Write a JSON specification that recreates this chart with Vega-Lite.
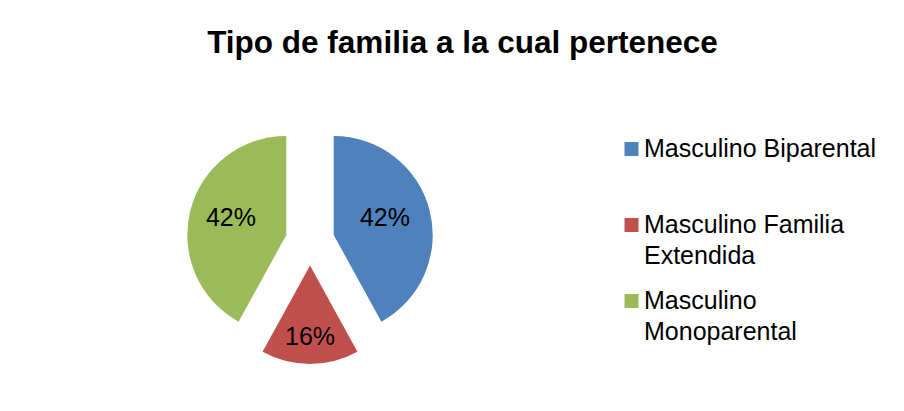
{
  "$schema": "https://vega.github.io/schema/vega-lite/v6.json",
  "width": 604,
  "height": 300,
  "autosize": "none",
  "padding": {"left": 8, "top": 91, "right": 292, "bottom": 20},
  "background": "white",
  "title": {
    "text": "Tipo de familia a la cual pertenece",
    "font": "Liberation Sans",
    "fontSize": 31.5,
    "fontWeight": "bold",
    "color": "#000000",
    "anchor": "middle",
    "frame": "group",
    "baseline": "alphabetic",
    "dx": 152.5,
    "offset": 7
  },
  "data": {
    "values": [
      {"category": "Masculino Biparental", "value": 0.42},
      {"category": "Masculino Familia Extendida", "value": 0.16},
      {"category": "Masculino Monoparental", "value": 0.42}
    ]
  },
  "layer": [
    {
      "transform": [
        {"stack": "value", "groupby": [], "sort": [{"field": "category", "order": "ascending"}], "as": ["start", "end"]},
        {"filter": {"field": "category", "equal": "Masculino Biparental"}}
      ],
      "mark": {"type": "arc", "radius": 99, "xOffset": 23.7, "yOffset": -6.1},
      "encoding": {
        "theta": {"field": "start", "type": "quantitative", "scale": {"domain": [0, 1]}},
        "theta2": {"field": "end"},
        "color": {
          "field": "category",
          "type": "nominal",
          "scale": {"domain": ["Masculino Biparental", "Masculino Familia Extendida", "Masculino Monoparental"], "range": ["#4F81BD", "#C0504D", "#9BBB59"]},
          "legend": {
            "orient": "none",
            "legendX": 611,
            "legendY": 45.5,
            "title": null,
            "symbolType": "square",
            "symbolSize": 196,
            "symbolStrokeWidth": 0,
            "symbolOpacity": 1,
            "labelFont": "Liberation Sans",
            "labelFontSize": 25,
            "labelColor": "#000000",
            "labelOffset": 0,
            "labelLimit": 400,
            "labelBaseline": "middle",
            "rowPadding": 19,
            "padding": 0,
            "labelExpr": "datum.label == 'Masculino Biparental' ? ['Masculino Biparental', ''] : datum.label == 'Masculino Familia Extendida' ? ['Masculino Familia', 'Extendida'] : ['Masculino', 'Monoparental']"
          }
        }
      }
    },
    {
      "transform": [
        {"stack": "value", "groupby": [], "sort": [{"field": "category", "order": "ascending"}], "as": ["start", "end"]},
        {"filter": {"field": "category", "equal": "Masculino Familia Extendida"}}
      ],
      "mark": {"type": "arc", "radius": 98.5, "xOffset": 0, "yOffset": 24.5},
      "encoding": {
        "theta": {"field": "start", "type": "quantitative", "scale": {"domain": [0, 1]}},
        "theta2": {"field": "end"},
        "color": {"field": "category", "type": "nominal"}
      }
    },
    {
      "transform": [
        {"stack": "value", "groupby": [], "sort": [{"field": "category", "order": "ascending"}], "as": ["start", "end"]},
        {"filter": {"field": "category", "equal": "Masculino Monoparental"}}
      ],
      "mark": {"type": "arc", "radius": 99, "xOffset": -23.7, "yOffset": -6.1},
      "encoding": {
        "theta": {"field": "start", "type": "quantitative", "scale": {"domain": [0, 1]}},
        "theta2": {"field": "end"},
        "color": {"field": "category", "type": "nominal"}
      }
    },
    {
      "mark": {"type": "text", "radius": 77.4, "dy": -4, "font": "Liberation Sans", "fontSize": 25, "color": "#000000", "align": "center", "baseline": "middle"},
      "encoding": {
        "theta": {"field": "value", "type": "quantitative", "stack": true, "scale": {"domain": [0, 1]}},
        "order": {"field": "category", "type": "nominal", "sort": "ascending"},
        "detail": {"field": "category", "type": "nominal"},
        "text": {"condition": {"test": "datum.category === 'Masculino Biparental'", "field": "value", "type": "quantitative", "format": ".0%"}, "value": ""}
      }
    },
    {
      "mark": {"type": "text", "radius": 96.3, "dy": 0, "font": "Liberation Sans", "fontSize": 25, "color": "#000000", "align": "center", "baseline": "middle"},
      "encoding": {
        "theta": {"field": "value", "type": "quantitative", "stack": true, "scale": {"domain": [0, 1]}},
        "order": {"field": "category", "type": "nominal", "sort": "ascending"},
        "detail": {"field": "category", "type": "nominal"},
        "text": {"condition": {"test": "datum.category === 'Masculino Familia Extendida'", "field": "value", "type": "quantitative", "format": ".0%"}, "value": ""}
      }
    },
    {
      "mark": {"type": "text", "radius": 81.6, "dy": -3, "font": "Liberation Sans", "fontSize": 25, "color": "#000000", "align": "center", "baseline": "middle"},
      "encoding": {
        "theta": {"field": "value", "type": "quantitative", "stack": true, "scale": {"domain": [0, 1]}},
        "order": {"field": "category", "type": "nominal", "sort": "ascending"},
        "detail": {"field": "category", "type": "nominal"},
        "text": {"condition": {"test": "datum.category === 'Masculino Monoparental'", "field": "value", "type": "quantitative", "format": ".0%"}, "value": ""}
      }
    }
  ],
  "resolve": {"scale": {"theta": "shared"}},
  "config": {
    "view": {"stroke": null},
    "style": {"guide-label": {"lineHeight": 31}}
  }
}
